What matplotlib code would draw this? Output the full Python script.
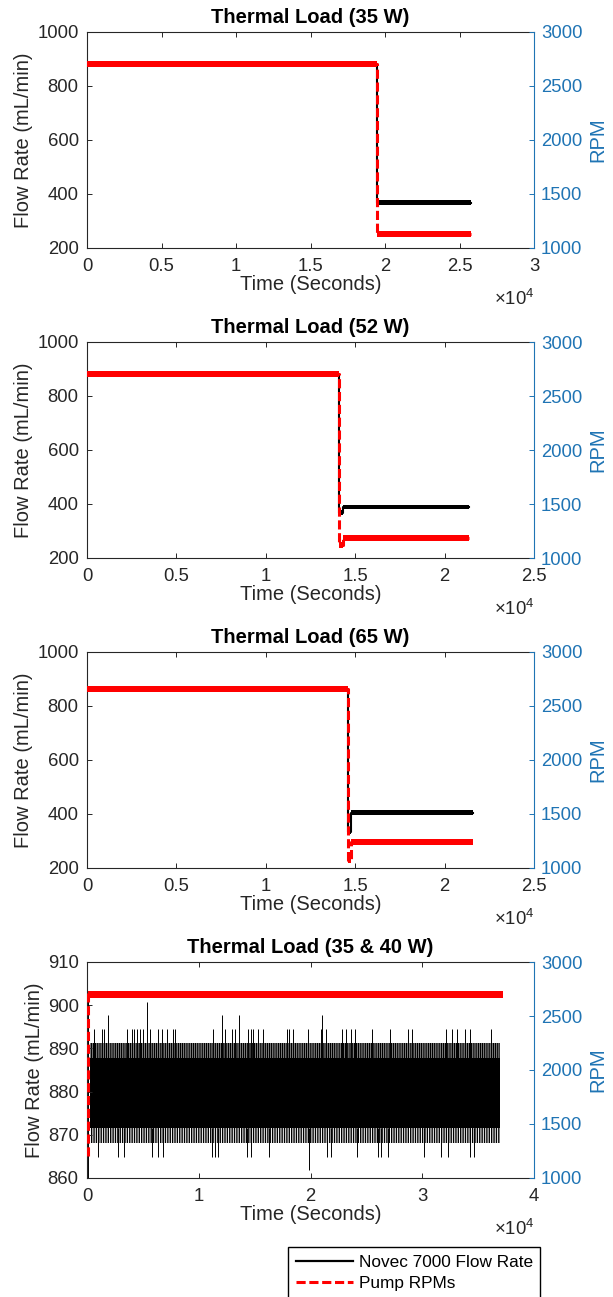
import matplotlib
matplotlib.use('Agg')
import matplotlib.pyplot as plt
from matplotlib.lines import Line2D
import numpy as np

plt.rcParams['font.family'] = ['Liberation Sans', 'DejaVu Sans']
plt.rcParams['mathtext.fontset'] = 'custom'
plt.rcParams['mathtext.rm'] = 'Liberation Sans'
plt.rcParams['mathtext.it'] = 'Liberation Sans:italic'
plt.rcParams['mathtext.bf'] = 'Liberation Sans:bold'
plt.rcParams['hatch.linewidth'] = 1.0

# ---------------- data ----------------
titles = ['Thermal Load (35 W)', 'Thermal Load (52 W)',
          'Thermal Load (65 W)', 'Thermal Load (35 & 40 W)']
x_ticks = [[0, 5000, 10000, 15000, 20000, 25000, 30000],
           [0, 5000, 10000, 15000, 20000, 25000],
           [0, 5000, 10000, 15000, 20000, 25000],
           [0, 10000, 20000, 30000, 40000]]
x_ticklabels = [['0', '0.5', '1', '1.5', '2', '2.5', '3'],
                ['0', '0.5', '1', '1.5', '2', '2.5'],
                ['0', '0.5', '1', '1.5', '2', '2.5'],
                ['0', '1', '2', '3', '4']]
flow_yticks = [[200, 400, 600, 800, 1000]] * 3 + [[860, 870, 880, 890, 900, 910]]
rpm_yticks = [1000, 1500, 2000, 2500, 3000]

# Panel 1 (35 W)
t1 = [0, 19450, 19450, 25750]
flow1 = [880, 880, 368, 368]
rpm1 = [2702, 2702, 1133, 1133]
# Panel 2 (52 W)
t2 = [0, 14094, 14094, 14334, 14334, 21380]
flow2 = [882, 882, 368, 368, 388, 388]
rpm2 = [2705, 2705, 1120, 1120, 1187, 1187]
# Panel 3 (65 W)
t3 = [0, 14580, 14580, 14750, 14750, 21570]
flow3 = [863, 863, 335, 335, 405, 405]
rpm3 = [2657, 2657, 1075, 1075, 1243, 1243]
# Panel 4 (35 & 40 W)
t4_rpm = [60, 60, 37230]
rpm4 = [1200, 2700, 2700]
t4_flow_start = [60, 60]
flow4_start = [860, 901]
t4_band = [270, 36960]
flow4_core = [871.5, 887.7]
flow4_upper_strip = [887.7, 891.2]
flow4_lower_strip = [868.2, 871.5]
spike_t_894 = [656, 1372, 1551, 3549, 3997, 4236, 4445, 4743, 5041, 5638, 6324,
               6682, 7129, 7726, 7876, 11306, 12350, 12946, 13244, 14438, 14646,
               14826, 15333, 15780, 17927, 18106, 18405, 19807, 20911, 21388,
               22790, 23178, 23596, 23983, 25475, 27115, 28696, 29114, 32097,
               32694, 33081, 33827, 34275, 36154]
spike_t_898 = [1850, 12050, 13631, 21003]
spike_t_901 = [5397]
spike_t_865 = [1014, 2804, 3341, 5787, 6384, 6831, 11157, 11455, 11753, 14289,
               14646, 16316, 21447, 21805, 24132, 26071, 26310, 26907, 30188,
               31680, 32276, 34275, 34663]
spike_t_862 = [19867]

flow_noise = [8, 8, 8]
rpm_noise = [28, 28, 28, 32]

# ---------------- style ----------------
BLUE = '#1f74b4'
DARK = '#262626'
fig = plt.figure(figsize=(6.13, 12.97), dpi=100)
FW, FH = 613, 1297
L, W, H = 87 / FW, 447 / FW, 216 / FH
tops = [32, 342, 652, 962]
TICK_FS, LAB_FS = 13.3, 14.5
DASH = (3.0, 1.2)

series = [(t1, flow1, rpm1), (t2, flow2, rpm2), (t3, flow3, rpm3)]

for i in range(4):
    b = 1 - (tops[i] + 216) / FH
    ax = fig.add_axes([L, b, W, H])
    ax2 = ax.twinx()

    if i < 3:
        t, fv, rv = series[i]
        t = np.array(t, float)
        fv = np.array(fv, float)
        rv = np.array(rv, float)
        ax.fill_between(t, fv - flow_noise[i], fv + flow_noise[i], color='k', lw=0)
        ax.plot(t, fv, color='k', lw=1.5)
        ax2.fill_between(t, rv - rpm_noise[i], rv + rpm_noise[i], color='r', lw=0)
        ax2.plot(t, rv, color='r', lw=2.2, dashes=DASH)
        ax.set_ylim(200, 1000)
    else:
        ax.plot(t4_flow_start, flow4_start, color='k', lw=0.7)
        ax.fill_between(t4_band, flow4_core[0], flow4_core[1], color='k', lw=0)
        ax.fill_between(t4_band, flow4_upper_strip[0], flow4_upper_strip[1],
                        facecolor='none', edgecolor='k', hatch='|' * 9, lw=0)
        ax.fill_between(t4_band, flow4_lower_strip[0], flow4_lower_strip[1],
                        facecolor='none', edgecolor='k', hatch='|' * 7, lw=0)
        ax.vlines(spike_t_894, flow4_core[1], 894.4, color='k', lw=0.7)
        ax.vlines(spike_t_898, flow4_core[1], 897.7, color='k', lw=0.7)
        ax.vlines(spike_t_901, flow4_core[1], 900.8, color='k', lw=0.7)
        ax.vlines(spike_t_865, flow4_core[0], 864.9, color='k', lw=0.7)
        ax.vlines(spike_t_862, flow4_core[0], 861.8, color='k', lw=0.7)
        tr = np.array(t4_rpm, float)
        rr = np.array(rpm4, float)
        ax2.fill_between(tr, rr - rpm_noise[3], rr + rpm_noise[3], color='r', lw=0)
        ax2.plot(tr, rr, color='r', lw=2.2, dashes=DASH)
        ax.set_ylim(860, 910)

    ax.set_xlim(x_ticks[i][0], x_ticks[i][-1])
    ax.set_xticks(x_ticks[i])
    ax.set_xticklabels(x_ticklabels[i])
    ax.set_yticks(flow_yticks[i])
    ax2.set_ylim(1000, 3000)
    ax2.set_yticks(rpm_yticks)

    for s in ['left', 'top', 'bottom']:
        ax.spines[s].set_color(DARK)
        ax.spines[s].set_linewidth(0.8)
        ax2.spines[s].set_visible(False)
    ax.spines['right'].set_visible(False)
    ax2.spines['right'].set_color(BLUE)
    ax2.spines['right'].set_linewidth(0.8)

    ax.tick_params(axis='x', direction='in', top=True, length=3.3, width=0.7,
                   color=DARK, labelcolor=DARK, labelsize=TICK_FS, pad=7)
    ax.tick_params(axis='y', direction='in', length=3.3, width=0.7,
                   color=DARK, labelcolor=DARK, labelsize=TICK_FS, pad=6)
    ax2.tick_params(axis='y', direction='in', length=3.3, width=0.7,
                    color=BLUE, labelcolor=BLUE, labelsize=TICK_FS, pad=5)

    ax.set_title(titles[i], fontsize=LAB_FS, fontweight='bold', pad=6.5, color='k')
    ax.set_xlabel('Time (Seconds)', fontsize=LAB_FS, color=DARK, labelpad=0.5)
    ax.set_ylabel('Flow Rate (mL/min)', fontsize=LAB_FS, color=DARK, labelpad=3)
    ax2.set_ylabel('RPM', fontsize=LAB_FS, color=BLUE, labelpad=4)
    ax.text(1.0, -57 / 216, r'$\times10^{4}$', transform=ax.transAxes,
            ha='right', va='baseline', fontsize=TICK_FS, color=DARK)

handles = [Line2D([], [], color='k', lw=1.6),
           Line2D([], [], color='r', lw=2.2, dashes=DASH)]
fig.legend(handles, ['Novec 7000 Flow Rate', 'Pump RPMs'],
           loc='upper left', bbox_to_anchor=(288 / FW, 1 - 1247 / FH),
           fontsize=12.4, frameon=True, fancybox=False, framealpha=1,
           edgecolor='k', handlelength=3.3, handletextpad=0.35,
           borderpad=0.45, labelspacing=0.35, borderaxespad=0)

fig.savefig('out.png', dpi=100)
